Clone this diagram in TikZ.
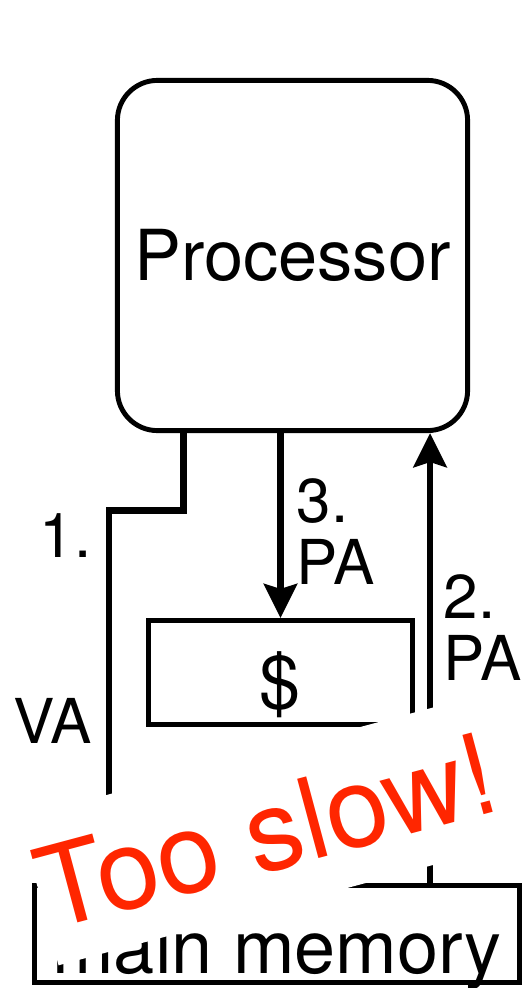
\documentclass[tikz,border=0pt]{standalone}
\usepackage{fontspec}
\setmainfont{TeX Gyre Heros}
\usetikzlibrary{arrows.meta}
\definecolor{slowred}{RGB}{255,38,0}

\begin{document}
\begin{tikzpicture}[
            x=0.01cm, y=-0.01cm,
            font=\fontsize{20}{24}\selectfont,
            block/.style={
                draw, line width=1.4pt, inner sep=0pt
            },
            wire/.style={line width=1.9pt},
            flow/.style={wire, -{Stealth[length=0.34cm, width=0.33cm, inset=0.05cm]}},
            tag/.style={font=\fontsize{17.6}{17.64}\selectfont, inner sep=0pt},
            warn/.style={
                fill=white, text=slowred, rotate=15, inner sep=0pt,
                font=\fontsize{32}{38}\selectfont
            }
        ]
        \useasboundingbox (0,0) rectangle (530,988);

        % --- Units ---
        \node[block, rounded corners=0.4cm, minimum width=3.5cm, minimum height=3.5cm]
            (proc) at (292.5,255.5) {Processor};
        \node[block, minimum width=2.63cm, minimum height=1.04cm,
              font=\fontsize{21}{25}\selectfont, text height=0.8cm, text depth=0.08cm]
            (cache) at (280.5,672.5) {\$};
        \node[block, minimum width=4.85cm, minimum height=0.975cm,
              font=\fontsize{21}{25}\selectfont, text height=0.87cm, text depth=0.09cm]
            (mem) at (277,934) {main memory};

        % --- Connectors ---
        \coordinate (vabend) at (109,510.5);
        \draw[wire] ([xshift=-1.09cm]proc.south) |- (vabend) -- (vabend |- mem.north);
        \draw[flow] (proc.south -| cache.north) -- (cache.north);
        \draw[flow] ([xshift=1.53cm]mem.north) coordinate (pabot) -- (pabot |- proc.south);

        % --- Labels ---
        \node[tag, align=right, anchor=east] (va) at (92,628.5) {1.\\[1.24cm]VA};
        \node[tag, align=left, anchor=west] (pa3) at (296,531.5) {3.\\PA};
        \node[tag, align=left, anchor=west] (pa2) at (443,627.5) {2.\\PA};

        % --- Overlay ---
        \node[warn, minimum width=4.7cm, minimum height=1.52cm] (slow) at (266,831) {Too slow!};

    \end{tikzpicture}
\end{document}
